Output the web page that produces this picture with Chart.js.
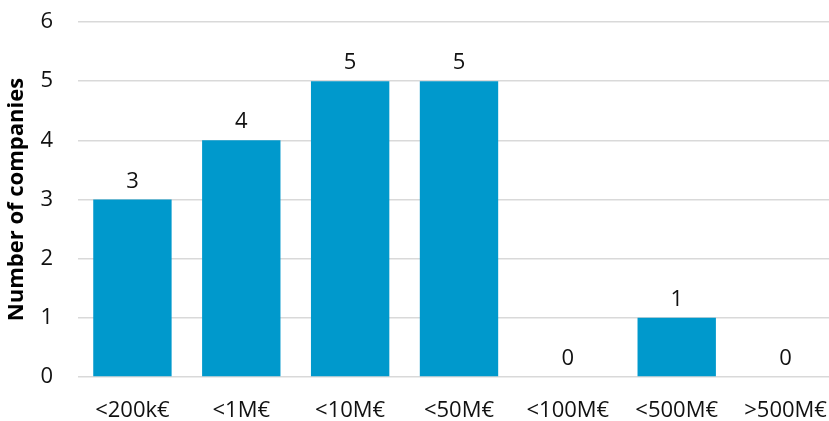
<!DOCTYPE html>
<html>
<head>
<meta charset="utf-8">
<script src="https://cdn.jsdelivr.net/npm/chart.js@4"></script>
<style>
  html, body { margin: 0; padding: 0; background: #fff; overflow: hidden; }
  #wrap { width: 840px; height: 421px; }
</style>
</head>
<body>
<div id="wrap"><canvas id="c" width="840" height="421"></canvas></div>
<script>
const categories = ['<200k€', '<1M€', '<10M€', '<50M€', '<100M€', '<500M€', '>500M€'];
const companyCounts = [3, 4, 5, 5, 0, 1, 0];
const yTicks = [0, 1, 2, 3, 4, 5, 6];

const FONT = '"Open Sans", "Liberation Sans", sans-serif';

// Writes each bar's value just above it
const valueLabels = {
  id: 'valueLabels',
  afterDatasetsDraw(chart) {
    const ctx = chart.ctx;
    const meta = chart.getDatasetMeta(0);
    ctx.save();
    ctx.font = '22px ' + FONT;
    ctx.fillStyle = '#111';
    ctx.textAlign = 'center';
    ctx.textBaseline = 'alphabetic';
    meta.data.forEach((bar, i) => {
      ctx.fillText(String(companyCounts[i]), bar.x, bar.y - 12);
    });
    ctx.restore();
  }
};

new Chart(document.getElementById('c'), {
  type: 'bar',
  data: {
    labels: categories,
    datasets: [{
      data: companyCounts,
      backgroundColor: '#0099CC',
      barPercentage: 0.72,
      categoryPercentage: 1.0
    }]
  },
  options: {
    responsive: false,
    animation: false,
    devicePixelRatio: 1,
    layout: { padding: { top: 22, right: 0, left: 0, bottom: 0 } },
    plugins: { legend: { display: false }, tooltip: { enabled: false } },
    scales: {
      x: {
        grid: { display: false },
        border: { display: false },
        ticks: { color: '#111', font: { family: FONT, size: 22 }, padding: 13, maxRotation: 0, autoSkip: false },
        afterFit(scale) { scale.height = 44; scale.paddingLeft = 0; scale.paddingRight = 0; }
      },
      y: {
        min: 0, max: 6,
        afterBuildTicks(scale) { scale.ticks = yTicks.map(v => ({ value: v })); },
        grid: { color: '#d9d9d9', lineWidth: 1.5, drawTicks: false },
        border: { display: false },
        ticks: { color: '#111', font: { family: FONT, size: 22 }, padding: 25 },
        title: { display: true, text: 'Number of companies', color: '#000', font: { family: FONT, size: 22, weight: 'bold' }, padding: { top: 4, bottom: 0 } },
        afterFit(scale) { scale.width = 78; scale.paddingTop = 0; scale.paddingBottom = 0; }
      }
    }
  },
  plugins: [valueLabels]
});
</script>
</body>
</html>
